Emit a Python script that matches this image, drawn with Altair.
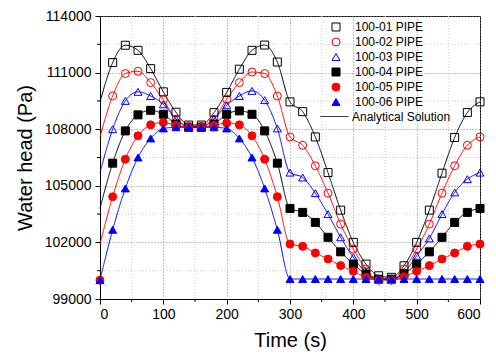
import altair as alt
import pandas as pd

FONT = "Liberation Sans, Arial, sans-serif"

times = list(range(0, 601, 20))
series_names = ["100-01 PIPE", "100-02 PIPE", "100-03 PIPE",
                "100-04 PIPE", "100-05 PIPE", "100-06 PIPE"]

# Numerical (marker) values, t = 0, 20, ..., 600  (None = no marker)
s01 = [None, 111530, 112450, 112180, 111210, 109980, 108900, 108220, 108220, 108880,
       109950, 111180, 112180, 112460, 111560, 109450, 108930, 107590, 105700, 103710,
       102000, 100850, 100230, 100150, 100760, 102000, 103710, 105670, 107560, 108880, 109450]
s02 = [None, 109760, 110950, 111070, 110470, 109560, 108530, 108150, 108150, 108530,
       109590, 110470, 111030, 110950, 109760, 107590, 107150, 106060, 104610, 102970,
       101650, 100590, 100050, 100050, 100590, 101650, 102970, 104610, 106060, 107150, 107590]
s03 = [None, 108000, 109500, 109980, 109760, 109320, 108550, 108150, 108150, 108550,
       109270, 109760, 110030, 109540, 108040, 105700, 105440, 104610, 103500, 102270,
       101210, 100410, 100050, 100050, 100410, 101290, 102210, 103500, 104650, 105350, 105700]
s04 = [None, 106200, 107910, 108760, 109000, 108790, 108270, 108100, 108100, 108270,
       108790, 108970, 108790, 107910, 106200, 103800, 103590, 103060, 102270, 101500,
       100850, 100320, 100050, 100050, 100350, 100850, 101500, 102270, 103060, 103590, 103800]
s05 = [100000, 104420, 106410, 107650, 108230, 108350, 108200, 108100, 108100, 108200,
       108330, 108230, 107650, 106410, 104420, 101910, 101790, 101440, 101120, 100770,
       100470, 100150, 100000, 100000, 100180, 100470, 100770, 101120, 101440, 101790, 101910]
s06 = [100000, 102670, 104860, 106500, 107510, 108040, 108100, 108100, 108100, 108100,
       108040, 107510, 106500, 104860, 102670, 100060, 100060, 100060, 100060, 100060,
       100060, 100060, 100060, 100060, 100060, 100060, 100060, 100060, 100060, 100060, 100060]
all_series = [s01, s02, s03, s04, s05, s06]

# Analytical solution value at t = 0 (rest of each curve follows the markers)
line_start = [109450, 107590, 105700, 103800, 101910, 100000]

x_major = [0, 100, 200, 300, 400, 500, 600]
x_minor = [50, 150, 250, 350, 450, 550]
y_major = [99000, 102000, 105000, 108000, 111000, 114000]
y_minor = [100500, 103500, 106500, 109500, 112500]

colors = ["black", "red", "blue", "black", "red", "blue"]
shapes = ["square", "circle", "triangle-up", "square", "circle", "triangle-up"]
fills = ["transparent", "transparent", "transparent", "black", "red", "blue"]

pts_rows, line_rows = [], []
for name, vals, start in zip(series_names, all_series, line_start):
    for t, v in zip(times, vals):
        if v is not None:
            pts_rows.append({"t": t, "v": v, "series": name})
    for t, v in zip(times, [start] + vals[1:]):
        line_rows.append({"t": t, "v": v, "series": name, "kind": "Analytical Solution"})
pts = pd.DataFrame(pts_rows)
lines = pd.DataFrame(line_rows)

W, H = 380, 283

xscale = alt.Scale(domain=[0, 600], nice=False, zero=False)
yscale = alt.Scale(domain=[99000, 114000], nice=False, zero=False)

x_axis = alt.Axis(values=x_major, title="Time (s)", grid=True, gridColor="#8a8a8a",
                  gridDash=[1, 2], tickSize=5, tickColor="black", domainColor="black",
                  labelFontSize=14, labelFont=FONT, labelColor="black", labelPadding=3,
                  titleFontSize=20, titleFont=FONT, titleFontWeight="normal",
                  titleColor="black", titleX=W / 2, titleY=41, titleBaseline="middle")
y_axis = alt.Axis(values=y_major, format="d", title="Water head (Pa)", grid=True,
                  gridColor="#8a8a8a", gridDash=[1, 2], tickSize=5, tickColor="black",
                  domainColor="black", labelFontSize=14, labelFont=FONT,
                  labelColor="black", labelPadding=4, titleFontSize=20, titleFont=FONT,
                  titleFontWeight="normal", titleColor="black", titleX=-75, titleY=H / 2,
                  titleAngle=270, titleAlign="center", titleBaseline="middle")

X = alt.X("t:Q", scale=xscale, axis=x_axis)
Y = alt.Y("v:Q", scale=yscale, axis=y_axis)

minor_x_df = pd.DataFrame({"t": x_minor})
minor_y_df = pd.DataFrame({"v": y_minor})

grid_x = alt.Chart(minor_x_df).mark_rule(color="#cccccc", strokeDash=[1, 2], strokeWidth=1).encode(x=X)
grid_y = alt.Chart(minor_y_df).mark_rule(color="#cccccc", strokeDash=[1, 2], strokeWidth=1).encode(y=Y)
tick_x = alt.Chart(minor_x_df).mark_rule(color="black").encode(
    x=X, y=alt.value(H), y2=alt.value(H + 3))
tick_y = alt.Chart(minor_y_df).mark_rule(color="black").encode(
    y=Y, x=alt.value(0), x2=alt.value(-3))

dash_legend = alt.Legend(title=None, orient="none", legendX=220, legendY=86,
                         symbolType="stroke", symbolSize=784, symbolStrokeColor="black",
                         symbolStrokeWidth=1, labelOffset=3, labelFontSize=12,
                         labelFont=FONT, labelColor="black", padding=0)

line_layers = []
for name, c in zip(series_names, colors):
    line_layers.append(
        alt.Chart(lines[lines["series"] == name]).mark_line(
            color=c, strokeWidth=1, interpolate="monotone").encode(
            x=X, y=Y,
            strokeDash=alt.StrokeDash("kind:N", scale=alt.Scale(domain=["Analytical Solution"], range=[[1, 0]]),
                                      legend=dash_legend)))

leg = alt.Legend(title=None, orient="none", legendX=230, legendY=5, labelFontSize=12,
                 labelFont=FONT, labelColor="black", symbolSize=64, symbolStrokeWidth=1,
                 labelOffset=13, rowPadding=3, padding=0)

points = alt.Chart(pts).mark_point(size=64, strokeWidth=1, opacity=1).encode(
    x=X, y=Y,
    color=alt.Color("series:N", scale=alt.Scale(domain=series_names, range=colors), legend=leg),
    shape=alt.Shape("series:N", scale=alt.Scale(domain=series_names, range=shapes), legend=leg),
    fill=alt.Fill("series:N", scale=alt.Scale(domain=series_names, range=fills), legend=leg),
)

chart = alt.layer(grid_x, grid_y, *line_layers, points, tick_x, tick_y).properties(
    width=W, height=H,
    autosize=alt.AutoSizeParams(type="none"),
    padding={"left": 92, "top": 8, "right": 8, "bottom": 52},
).configure_view(stroke="black", strokeWidth=1)

chart.save("out.html", embed_options={"renderer": "svg", "actions": False})
